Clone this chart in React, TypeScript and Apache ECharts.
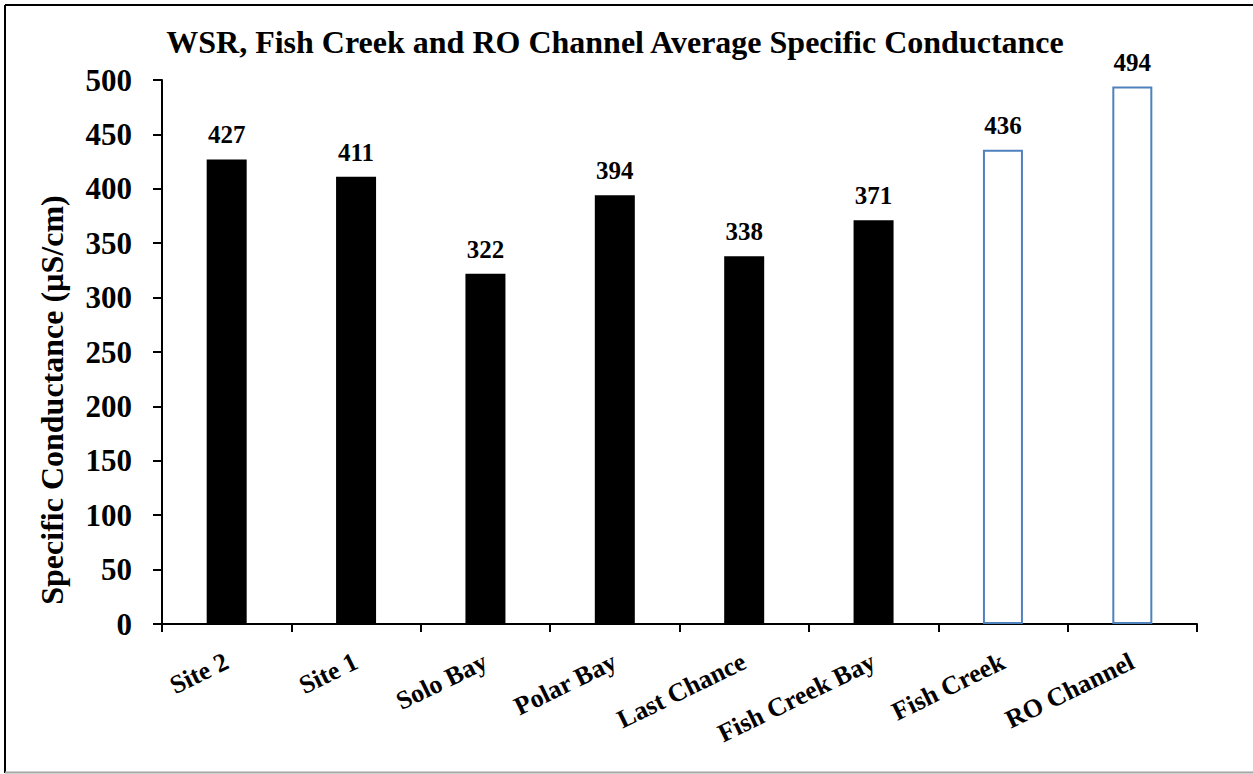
import React, { useEffect, useRef } from "react";
import * as echarts from "echarts";

const categories = ["Site 2", "Site 1", "Solo Bay", "Polar Bay", "Last Chance", "Fish Creek Bay", "Fish Creek", "RO Channel"];
const values = [427, 411, 322, 394, 338, 371, 436, 494];
const hollow = [false, false, false, false, false, false, true, true];
const titleText = "WSR, Fish Creek and RO Channel Average Specific Conductance";
const yAxisName = "Specific Conductance (µS/cm)";

const FONT = "'Liberation Serif', 'Times New Roman', serif";

export default function App() {
  const ref = useRef<HTMLDivElement>(null);
  useEffect(() => {
    if (!ref.current) return;
    const chart = echarts.init(ref.current, null, { renderer: "svg" });
    const data = values.map((v, i) => ({
      value: v,
      itemStyle: hollow[i]
        ? { color: "#ffffff", borderColor: "#4F81BD", borderWidth: 2 }
        : { color: "#000000", borderColor: "#000000", borderWidth: 0 },
    }));
    chart.setOption({
      animation: false,
      backgroundColor: "#ffffff",
      grid: { left: 162, top: 80, right: 56, bottom: 150, containLabel: false },
      xAxis: {
        type: "category",
        data: categories,
        boundaryGap: true,
        axisLine: { lineStyle: { color: "#000", width: 2 } },
        axisTick: { show: true, alignWithLabel: false, length: 8, lineStyle: { color: "#000", width: 2 } },
        axisLabel: {
          interval: 0,
          rotate: 26,
          margin: 36,
          color: "#000",
          fontFamily: FONT,
          fontWeight: "bold",
          fontSize: 26,
        },
      },
      yAxis: {
        type: "value",
        min: 0,
        max: 500,
        interval: 50,
        splitLine: { show: false },
        axisLine: { show: true, lineStyle: { color: "#000", width: 2 } },
        axisTick: { show: true, length: 9, lineStyle: { color: "#000", width: 2 } },
        axisLabel: {
          margin: 30,
          color: "#000",
          fontFamily: FONT,
          fontWeight: "bold",
          fontSize: 31,
        },
      },
      series: [
        {
          type: "bar",
          data,
          barWidth: 40,
          label: {
            show: true,
            position: "top",
            distance: 12,
            color: "#000",
            fontFamily: FONT,
            fontWeight: "bold",
            fontSize: 25,
          },
        },
      ],
      graphic: [
        { type: "line", shape: { x1: 5, y1: 5, x2: 1253, y2: 5 }, style: { stroke: "#000", lineWidth: 2 } },
        { type: "line", shape: { x1: 5, y1: 5, x2: 5, y2: 773 }, style: { stroke: "#000", lineWidth: 2 } },
        { type: "line", shape: { x1: 5, y1: 772.5, x2: 1253, y2: 772.5 }, style: { stroke: "#A6A6A6", lineWidth: 2 } },
        {
          type: "text",
          x: 615,
          y: 42,
          style: {
            text: titleText,
            fill: "#000",
            font: `bold 32px ${FONT}`,
            textAlign: "center",
            textVerticalAlign: "middle",
          },
        },
        {
          type: "text",
          x: 52,
          y: 400,
          rotation: Math.PI / 2,
          style: {
            text: yAxisName,
            fill: "#000",
            font: `bold 32px ${FONT}`,
            textAlign: "center",
            textVerticalAlign: "middle",
          },
        },
      ],
    });
    return () => chart.dispose();
  }, []);
  return <div ref={ref} style={{ position: "absolute", left: 0, top: 0, width: 1253, height: 774 }} />;
}
